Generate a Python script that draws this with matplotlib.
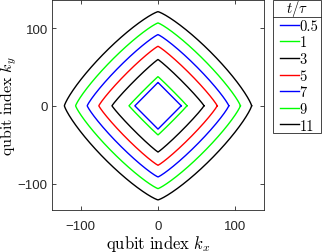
import numpy as np
import matplotlib
matplotlib.use("Agg")
from matplotlib import pyplot as plt
from matplotlib.lines import Line2D
from matplotlib.patches import Rectangle

plt.rcParams['mathtext.fontset'] = 'cm'

# legend labels (t/tau), curve colours, front "radius" and bulge exponent
times = ['0.5', '1', '3', '5', '7', '9', '11']
colors = ['#0000ff', '#00ff00', '#000000', '#ff0000', '#0000ff', '#00ff00', '#000000']
radius = [30, 37.5, 59.5, 76.5, 91.5, 106.5, 121]
bulge = [1.0, 1.03, 1.08, 1.12, 1.15, 1.18, 1.22]

fig = plt.figure(figsize=(3.22, 2.53), dpi=100)
ax = fig.add_axes([52/322, 1-211/253, 212/322, 210/253])

th = np.linspace(0, 2*np.pi, 721)
for r, p, c, lab in zip(radius, bulge, colors, times):
    cx, sy = np.cos(th), np.sin(th)
    x = r*np.sign(cx)*np.abs(cx)**(2/p)
    y = r*np.sign(sy)*np.abs(sy)**(2/p)
    ax.plot(x, y, color=c, lw=1.0, label=lab)

ax.set_xlim(-137, 137)
ax.set_ylim(-134, 136)
ax.set_xticks([-100, 0, 100])
ax.set_yticks([-100, 0, 100])
ax.tick_params(direction='in', length=3, width=0.6, top=True, right=True,
               labelsize=9.5, colors='#262626', pad=3)
ax.tick_params(axis='x', pad=7)
for lab in ax.get_xticklabels() + ax.get_yticklabels():
    lab.set_family('Liberation Sans')
for s in ax.spines.values():
    s.set_linewidth(0.6)
    s.set_color('#262626')
ax.set_xlabel(r'$\mathrm{qubit\ index}\ k_x$', fontsize=12, labelpad=1)
ax.set_ylabel(r'$\mathrm{qubit\ index}\ k_y$', fontsize=11.5, va='center')
ax.yaxis.set_label_coords((9-52)/212, 0.5)

# legend box with header row
x0, x1 = 273/322, 321/322
y0, y1 = 1-134/253, 1-1/253
fig.patches.append(Rectangle((x0, y0), x1-x0, y1-y0, transform=fig.transFigure,
                             fill=False, lw=0.6, ec='#262626'))
fig.lines.append(Line2D([x0, x1], [1-18/253, 1-18/253], transform=fig.transFigure,
                        lw=0.6, color='#262626'))
fig.text((x0+x1)/2, 1-9/253, r'$t/\tau$', ha='center', va='center', fontsize=10.5)
handles, labels = ax.get_legend_handles_labels()
fig.legend(handles, labels, loc='upper left', bbox_to_anchor=(x0+7/322, 1-20/253),
           frameon=False, handlelength=1.3, handletextpad=0.05,
           labelspacing=0.2, borderaxespad=0, borderpad=0,
           prop={'family': 'cmr10', 'size': 10.5})

fig.savefig('out.png', dpi=100)
